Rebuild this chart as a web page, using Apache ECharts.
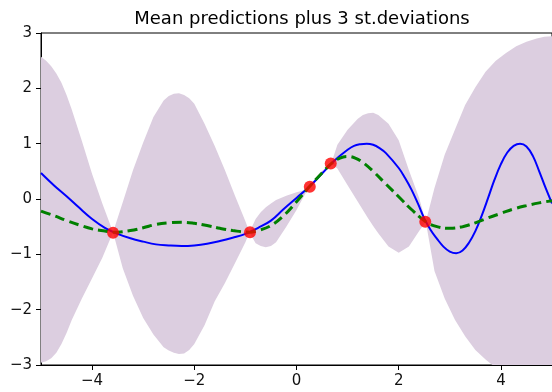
<!DOCTYPE html>
<html>
<head>
<meta charset="utf-8">
<script src="https://cdn.jsdelivr.net/npm/echarts@6/dist/echarts.min.js"></script>
<style>
html,body{margin:0;padding:0;background:#fff;}
#chart{width:552px;height:392px;}
</style>
</head>
<body>
<div id="chart"></div>
<script>
// ---- data ----
const titleText = 'Mean predictions plus 3 st.deviations';
const xTicks = [-4, -2, 0, 2, 4];
const yTicks = [-3, -2, -1, 0, 1, 2, 3];

// confidence band (mean ± 3 sd)
const bandX = [-5, -4.9, -4.8, -4.7, -4.6, -4.5, -4.4, -4.2, -4.0, -3.8, -3.59,
  -3.4, -3.2, -3.0, -2.8, -2.6, -2.5, -2.4, -2.3, -2.2, -2.1, -2.0, -1.8, -1.6, -1.4, -1.2, -1.0, -0.92,
  -0.8, -0.7, -0.6, -0.5, -0.4, -0.2, 0.0, 0.15, 0.25,
  0.45, 0.68,
  0.8, 1.0, 1.2, 1.3, 1.4, 1.5, 1.6, 1.8, 2.0, 2.2, 2.4, 2.53,
  2.7, 2.9, 3.1, 3.3, 3.5, 3.7, 3.9, 4.1, 4.3, 4.5, 4.7, 4.85, 5.0];
const bandUpper = [2.57, 2.50, 2.40, 2.27, 2.10, 1.88, 1.62, 1.05, 0.45, -0.08, -0.60,
  -0.06, 0.52, 1.02, 1.48, 1.78, 1.86, 1.90, 1.91, 1.88, 1.82, 1.72, 1.36, 0.96, 0.52, 0.05, -0.40, -0.60,
  -0.36, -0.24, -0.15, -0.08, -0.02, 0.06, 0.12, 0.16, 0.22,
  0.47, 0.64,
  0.98, 1.25, 1.45, 1.52, 1.55, 1.56, 1.52, 1.36, 1.06, 0.52, 0.02, -0.41,
  0.20, 0.80, 1.25, 1.70, 2.02, 2.30, 2.50, 2.64, 2.76, 2.84, 2.90, 2.93, 2.94];
const bandLower = [-2.96, -2.93, -2.88, -2.78, -2.62, -2.42, -2.19, -1.80, -1.43, -1.06, -0.60,
  -1.25, -1.75, -2.15, -2.45, -2.68, -2.74, -2.78, -2.80, -2.79, -2.73, -2.62, -2.28, -1.85, -1.52, -1.15, -0.78, -0.60,
  -0.80, -0.85, -0.87, -0.85, -0.78, -0.50, -0.20, 0.06, 0.22,
  0.40, 0.64,
  0.55, 0.25, -0.05, -0.20, -0.35, -0.49, -0.62, -0.86, -0.97, -0.86, -0.58, -0.41,
  -1.30, -1.80, -2.18, -2.48, -2.73, -2.90, -3.05, -3.15, -3.20, -3.20, -3.15, -3.10, -3.05];

// true function (blue)
const trueX = [-5.0, -4.75, -4.5, -4.25, -4.0, -3.75, -3.5, -3.25, -3.0, -2.75, -2.5, -2.25, -2.0,
  -1.75, -1.5, -1.25, -1.0, -0.75, -0.5, -0.25, 0.0, 0.25, 0.5, 0.75, 1.0, 1.125, 1.25, 1.375, 1.5, 1.625, 1.75,
  2.0, 2.125, 2.25, 2.375, 2.5, 2.625, 2.75, 2.875, 3.0, 3.125, 3.25, 3.375, 3.5, 3.625, 3.75, 3.875,
  4.0, 4.125, 4.25, 4.375, 4.5, 4.625, 4.75, 4.875, 5.0];
const trueY = [0.47, 0.25, 0.05, -0.16, -0.36, -0.52, -0.63, -0.71, -0.77, -0.82, -0.84, -0.85, -0.84,
  -0.81, -0.76, -0.70, -0.63, -0.52, -0.39, -0.18, 0.02, 0.22, 0.46, 0.70, 0.89, 0.96, 0.99, 1.0, 0.98, 0.92, 0.83,
  0.56, 0.38, 0.17, -0.08, -0.35, -0.56, -0.72, -0.86, -0.95, -0.98, -0.93, -0.79, -0.58, -0.30, 0.02, 0.35,
  0.63, 0.84, 0.96, 1.0, 0.95, 0.78, 0.50, 0.20, -0.08];

// mean prediction (green dashed)
const meanX = [-5, -4.75, -4.5, -4.25, -4.0, -3.75, -3.59, -3.25, -3.0, -2.75, -2.5, -2.25, -2.0,
  -1.75, -1.5, -1.25, -0.92, -0.75, -0.5, -0.25, 0.0, 0.25, 0.5, 0.68, 0.85, 1.0, 1.15, 1.3,
  1.5, 1.75, 2.0, 2.25, 2.53, 2.75, 3.0, 3.25, 3.5, 3.75, 4.0, 4.25, 4.5, 4.75, 5.0];
const meanY = [-0.22, -0.30, -0.39, -0.47, -0.54, -0.58, -0.60, -0.57, -0.52, -0.46, -0.43, -0.42, -0.44,
  -0.48, -0.53, -0.57, -0.60, -0.57, -0.48, -0.30, -0.05, 0.22, 0.47, 0.64, 0.74, 0.77, 0.74, 0.66,
  0.50, 0.27, 0.04, -0.19, -0.41, -0.50, -0.53, -0.50, -0.43, -0.34, -0.26, -0.18, -0.12, -0.07, -0.03];

// observations (red dots)
const obsX = [-3.59, -0.91, 0.26, 0.67, 2.52];
const obsY = [-0.61, -0.60, 0.22, 0.64, -0.41];

// ---- chart ----
const zip = (a, b) => a.map((v, i) => [v, b[i]]);
const fmt = v => String(v).replace('-', '\u2212');
const font = 'DejaVu Sans';

const chart = echarts.init(document.getElementById('chart'), null, {renderer: 'canvas'});
chart.setOption({
  animation: false,
  backgroundColor: '#fff',
  title: {
    text: titleText,
    left: 297,
    top: 5,
    textAlign: 'center',
    textStyle: {fontFamily: font, fontSize: 18, fontWeight: 'normal', color: '#000'}
  },
  grid: {left: 41, top: 33, width: 513, height: 332, show: true, borderColor: '#000', borderWidth: 1, backgroundColor: 'transparent'},
  xAxis: {
    type: 'value', min: -5, max: 5, interval: 1,
    axisLine: {show: true, onZero: false, lineStyle: {color: '#000', width: 1}},
    axisTick: {show: true, length: 5, customValues: xTicks, lineStyle: {color: '#000'}},
    axisLabel: {customValues: xTicks, formatter: fmt, fontFamily: font, fontSize: 15, color: '#111', margin: 9},
    splitLine: {show: false}
  },
  yAxis: {
    type: 'value', min: -3, max: 3, interval: 1,
    axisLine: {show: true, onZero: false, lineStyle: {color: '#000', width: 1}},
    axisTick: {show: true, length: 5, customValues: yTicks, lineStyle: {color: '#000'}},
    axisLabel: {customValues: yTicks, formatter: fmt, fontFamily: font, fontSize: 15, color: '#111', margin: 9},
    splitLine: {show: false}
  },
  series: [
    {
      type: 'custom',
      silent: true,
      clip: true,
      z: 1,
      data: [[bandX[0], bandUpper[0]]],
      renderItem: function (params, api) {
        const pts = [];
        for (let i = 0; i < bandX.length; i++) pts.push(api.coord([bandX[i], bandUpper[i]]));
        for (let i = bandX.length - 1; i >= 0; i--) pts.push(api.coord([bandX[i], bandLower[i]]));
        const cs = params.coordSys;
        return {
          type: 'group',
          clipPath: {type: 'rect', shape: {x: cs.x, y: cs.y, width: cs.width, height: cs.height}},
          children: [{type: 'polygon', shape: {points: pts}, style: {fill: 'rgb(220,206,224)'}}]
        };
      }
    },
    {
      type: 'line', data: zip(trueX, trueY), smooth: 0.4, showSymbol: false, z: 3,
      lineStyle: {color: '#0000ff', width: 2}
    },
    {
      type: 'line', data: zip(meanX, meanY), smooth: 0.4, showSymbol: false, z: 4,
      lineStyle: {color: '#008000', width: 3, type: [10, 5]}
    },
    {
      type: 'scatter', data: zip(obsX, obsY), symbol: 'circle', symbolSize: 12, z: 5,
      itemStyle: {color: '#ff0000'}
    }
  ]
});
</script>
</body>
</html>
